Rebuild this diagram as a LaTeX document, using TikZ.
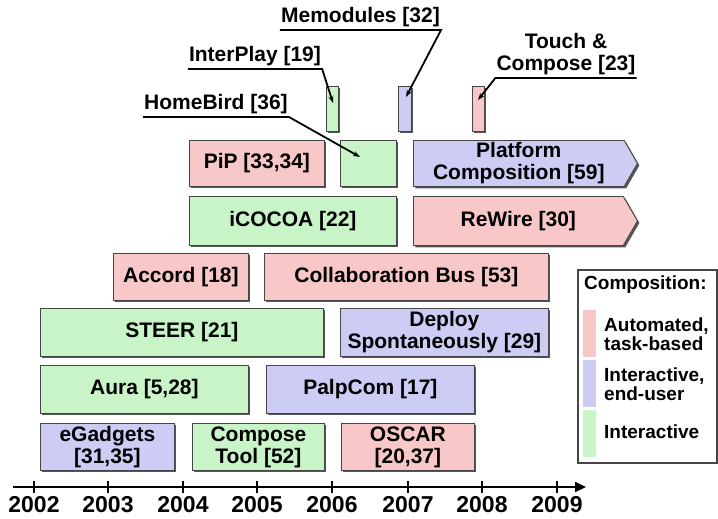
\documentclass[tikz,border=0pt]{standalone}
\usepackage{fontspec}
\setmainfont{Liberation Sans}
\usetikzlibrary{shapes.symbols,shadows,arrows.meta}

\definecolor{autored}{RGB}{248,200,200}
\definecolor{userblue}{RGB}{204,204,244}
\definecolor{interactgreen}{RGB}{200,244,200}
\definecolor{edgegray}{RGB}{70,70,70}
\definecolor{shadowgray}{RGB}{85,85,85}

\begin{document}
\begin{tikzpicture}[x=1pt,y=-1pt,
  box/.style={draw=edgegray, line width=0.8pt, anchor=north west, inner sep=0pt,
    align=center, font=\fontsize{21}{22}\selectfont\bfseries,
    drop shadow={opacity=1, fill=shadowgray, shadow xshift=2pt, shadow yshift=-2pt}},
  redbox/.style={box, fill=autored},
  bluebox/.style={box, fill=userblue},
  greenbox/.style={box, fill=interactgreen},
  arrowbox/.style={shape=signal, signal to=east, signal pointer angle=120},
  lbl/.style={font=\fontsize{21}{22}\selectfont\bfseries, inner xsep=1pt,
    inner ysep=2.5pt, anchor=south, align=center},
  lead/.style={line width=1.8pt, -{Stealth[length=7pt,width=5pt]}},
  year/.style={font=\fontsize{23}{24}\selectfont\bfseries, inner sep=0pt},
  legtext/.style={font=\fontsize{19}{19}\selectfont\bfseries, anchor=west,
    align=left, inner sep=0pt},
  swatch/.style={anchor=north west, inner sep=0pt, minimum width=13, draw=none},
]
\useasboundingbox (0,0) rectangle (718,519);

% ---- time axis ----
\coordinate (axstart) at (13,487);
\coordinate (axend) at (586,487);
\draw[line width=2pt, -{Triangle[length=11pt,width=10pt]}] (axstart) -- (axend);
\foreach \yr/\px in {2002/34,2003/108,2004/183,2005/257,2006/332,2007/408,2008/482,2009/557}{
  \draw[line width=2pt] (\px,481) -- (\px,493);
  \node[year] (y\yr) at (\px,505) {\yr};
}

% ---- bottom row ----
\node[bluebox, minimum width=134, minimum height=47] (egadgets) at (40,423) {eGadgets\\{}[31,35]};
\node[greenbox, minimum width=132, minimum height=47] (composetool) at (192,423) {Compose\\Tool [52]};
\node[redbox, minimum width=133, minimum height=47] (oscar) at (341,423) {OSCAR\\{}[20,37]};

% ---- second row ----
\node[greenbox, minimum width=208, minimum height=48] (aura) at (40,365) {Aura [5,28]};
\node[bluebox, minimum width=208, minimum height=48] (palpcom) at (266,365) {PalpCom [17]};

% ---- third row ----
\node[greenbox, minimum width=283, minimum height=48] (steer) at (40,308) {STEER [21]};
\node[bluebox, minimum width=208, minimum height=48] (deploy) at (340,308) {Deploy\\Spontaneously [29]};

% ---- fourth row ----
\node[redbox, minimum width=135, minimum height=47] (accord) at (113,253) {Accord [18]};
\node[redbox, minimum width=284, minimum height=47] (collab) at (264,253) {Collaboration Bus [53]};

% ---- fifth row ----
\node[greenbox, minimum width=207, minimum height=49] (icocoa) at (189,196) {iCOCOA [22]};
\node[redbox, arrowbox, minimum width=224, minimum height=49] (rewire) at (413,196) {ReWire [30]};

% ---- sixth row ----
\node[redbox, minimum width=135, minimum height=46] (pip) at (189,140) {PiP [33,34]};
\node[greenbox, minimum width=56, minimum height=46] (homebird) at (340,140) {};
\node[bluebox, arrowbox, minimum width=224, minimum height=46] (platform) at (413,140) {Platform\\Composition [59]};

% ---- short projects ----
\node[greenbox, minimum width=12, minimum height=45] (interplay) at (326,86) {};
\node[bluebox, minimum width=13, minimum height=45] (memodules) at (398,86) {};
\node[redbox, minimum width=12, minimum height=45] (touch) at (472,86) {};

% ---- callout labels ----
\coordinate (memtip) at (406,97);
\coordinate (interplaytip) at (333,103);
\coordinate (homebirdtip) at (360,157);
\coordinate (touchtip) at (478,100);

\node[lbl] (memlbl) at (360.5,30) {Memodules [32]};
\node[lbl] (interplaylbl) at (255,69) {InterPlay [19]};
\node[lbl] (homebirdlbl) at (216,117) {HomeBird [36]};
\node[lbl] (touchlbl) at (566,78) {Touch \&\\Compose [23]};

\draw[lead] (memlbl.south west) -- (memlbl.south east) -- (memtip);
\draw[lead] (interplaylbl.south west) -- (interplaylbl.south east) -- (interplaytip);
\draw[lead] (homebirdlbl.south west) -- (homebirdlbl.south east) -- (homebirdtip);
\draw[lead] (touchlbl.south east) -- (touchlbl.south west) -- (touchtip);

% ---- legend ----
\node[draw=edgegray, line width=1.5pt, fill=white, anchor=north west,
  minimum width=139, minimum height=193, inner sep=0pt] (legend) at (577,269) {};
\node[legtext] (legtitle) at (584,285) {Composition:};
\node[swatch, fill=autored, minimum height=47] (swred) at (583,310) {};
\node[swatch, fill=userblue, minimum height=47] (swblue) at (583,360) {};
\node[swatch, fill=interactgreen, minimum height=47] (swgreen) at (583,410) {};
\node[legtext] (legred) at (604,334) {Automated,\\task-based};
\node[legtext] (legblue) at (604,384) {Interactive,\\end-user};
\node[legtext] (leggreen) at (604,432) {Interactive};
\end{tikzpicture}
\end{document}
